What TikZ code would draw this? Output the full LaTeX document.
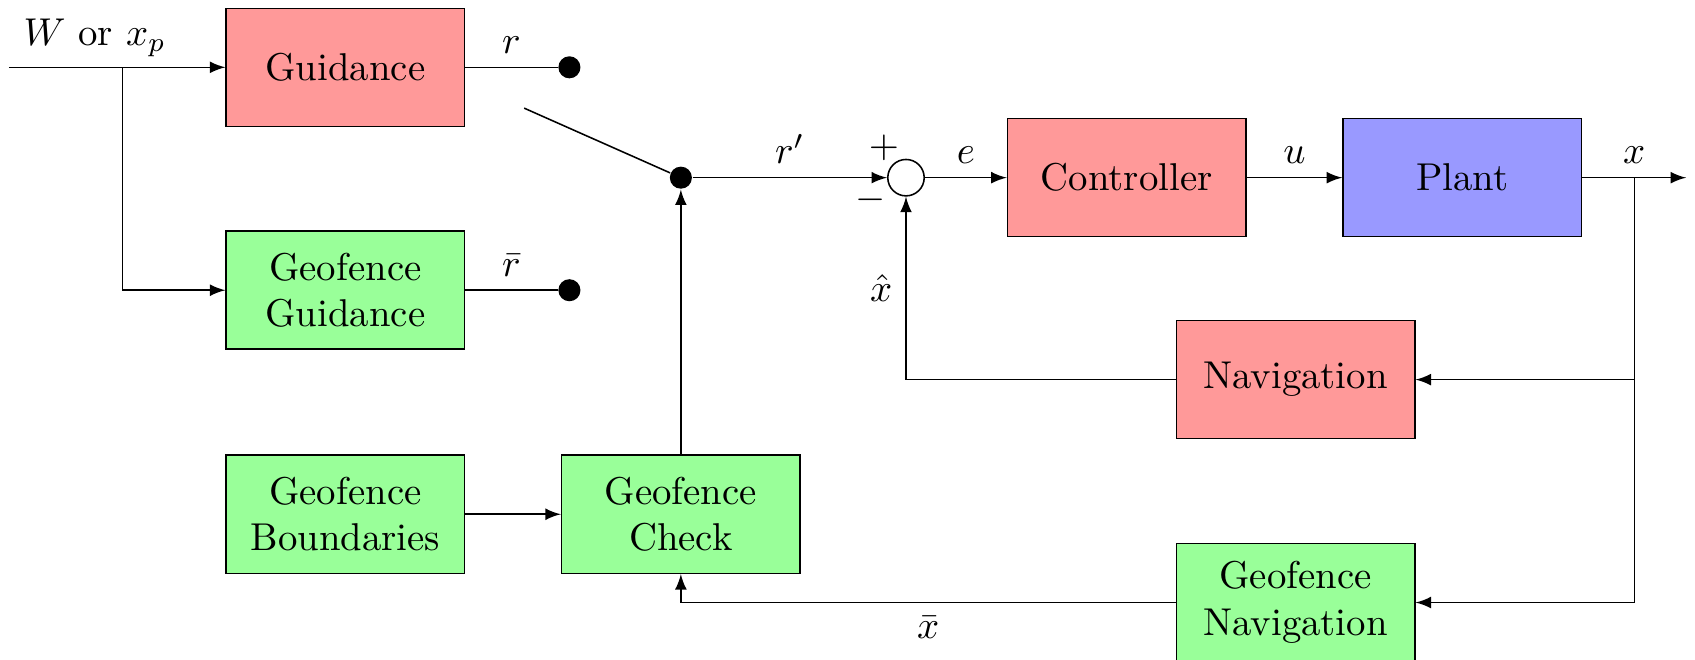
\documentclass[tikz,border=0pt]{standalone}
\usepackage{amsmath}
\usepackage{amssymb}
\usepackage{tikz}
\usetikzlibrary{arrows}

\begin{document}
\begin{tikzpicture}[>=latex,
    block/.style={draw, minimum width=2.16cm, minimum height=1.07cm, align=center},
    redblock/.style={block, fill=red!40},
    blueblock/.style={block, fill=blue!40},
    greenblock/.style={block, fill=green!40},
    sumnode/.style={draw, circle, inner sep=0pt, minimum size=0.33cm},
    dot/.style={circle, fill, inner sep=0pt, minimum size=0.2cm}]
    \useasboundingbox (0,0) rectangle (15.36,-5.975);

    % Blocs
    \node[redblock] (guid) at (3.13,-0.61) {Guidance};
    \node[greenblock] (geoguid) at (3.13,-2.63) {Geofence\\Guidance};
    \node[greenblock] (geobound) at (3.13,-4.66) {Geofence\\Boundaries};
    \node[greenblock] (geocheck) at (6.17,-4.66) {Geofence\\Check};
    \node[redblock] (ctrl) at (10.21,-1.61) {Controller};
    \node[blueblock] (plant) at (13.25,-1.61) {Plant};
    \node[redblock] (nav) at (11.74,-3.44) {Navigation};
    \node[greenblock] (geonav) at (11.74,-5.46) {Geofence\\Navigation};

    \node[sumnode] (sum) at (8.21,-1.61) {};
    \node at ([shift={(-0.2,0.27)}]sum) {$+$};
    \node at ([shift={(-0.32,-0.2)}]sum) {$-$};

    % Interrupteur
    \node[dot] (rdot) at (5.16,-0.61) {};
    \node[dot] (rbdot) at (5.16,-2.63) {};
    \node[dot] (swdot) at (6.17,-1.61) {};
    \coordinate (blade) at (4.75,-0.98);

    \coordinate (in) at (0.08,-0.61);
    \coordinate (split) at (1.11,-0.61);
    \coordinate (xsplit) at (14.81,-1.61);
    \coordinate (out) at (15.28,-1.61);

    \node at (0.86,-0.34) {$W$ or $x_p$};
    \draw[->] (in) -- (guid);
    \draw[->] (split) |- (geoguid);
    \draw (guid) -- node[above] {$r$} (rdot);
    \draw (geoguid) -- node[above] {$\bar{r}$} (rbdot);
    \draw (blade) -- (swdot);
    \draw[->] (swdot) -- node[above] {$r'$} (sum);
    \draw[->] (sum) -- node[above] {$e$} (ctrl);
    \draw[->] (ctrl) -- node[above] {$u$} (plant);
    \draw[->] (plant) -- (xsplit) node[above] {$x$} -- (out);

    % Retours
    \draw[->] (xsplit) |- (nav);
    \draw[->] (xsplit) |- (geonav);
    \draw[->] (nav) -| node[pos=0.75, left] {$\hat{x}$} (sum);
    \draw[->] (geonav) -| node[pos=0.25, below] {$\bar{x}$} (geocheck);
    \draw[->] (geobound) -- (geocheck);
    \draw[->] (geocheck) -- (swdot);
\end{tikzpicture}
\end{document}
